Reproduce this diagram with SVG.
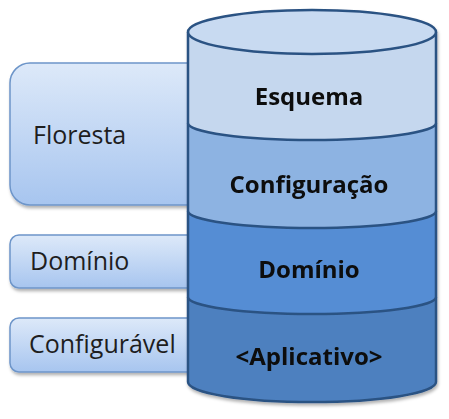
<svg xmlns="http://www.w3.org/2000/svg" width="449" height="419" viewBox="0 0 449 419">
<defs>
<linearGradient id="boxGrad" x1="0" y1="0" x2="0" y2="1">
<stop offset="0" stop-color="#dde9f9"/>
<stop offset="1" stop-color="#a7c5ef"/>
</linearGradient>
<filter id="shadow" x="-10%" y="-10%" width="130%" height="140%">
<feDropShadow dx="1" dy="2.5" stdDeviation="1.5" flood-color="#000" flood-opacity="0.3"/>
</filter>
<style>
.box{fill:url(#boxGrad);stroke:#6d95c9;stroke-width:1.5;filter:url(#shadow)}
.lbl{font-family:"Open Sans","Noto Sans","Liberation Sans",sans-serif;font-size:25px;fill:#1e1e1e}
.layer{stroke:#2c5283;stroke-width:2.5;stroke-linejoin:round}
.ctext{font-family:"Open Sans","Noto Sans","Liberation Sans",sans-serif;font-size:24px;font-weight:bold;fill:#0d0d0d;text-anchor:middle}
</style>
</defs>
<rect width="449" height="419" fill="#ffffff"/>
<g id="floresta">
<rect class="box" x="10" y="63" width="200" height="142" rx="20" ry="20"/>
<text class="lbl" x="33" y="144">Floresta</text>
</g>
<g id="dominio-label">
<rect class="box" x="10" y="235" width="200" height="53" rx="9" ry="9"/>
<text class="lbl" x="30" y="270">Domínio</text>
</g>
<g id="configuravel">
<rect class="box" x="10" y="318" width="200" height="54" rx="9" ry="9"/>
<text class="lbl" x="29" y="353">Configurável</text>
</g>
<g id="cylinder" filter="url(#shadow)">
<g id="aplicativo">
<path class="layer" fill="#4d80bf" d="M188,297 V382 A124,20 0 0 0 436,382 V297"/>
<text class="ctext" x="309" y="365">&lt;Aplicativo&gt;</text>
</g>
<g id="dominio">
<path class="layer" fill="#558dd4" d="M188,211 V297 A124,17 0 0 0 436,297 V211"/>
<text class="ctext" x="309" y="278">Domínio</text>
</g>
<g id="configuracao">
<path class="layer" fill="#8db3e2" d="M188,123 V211 A124,17 0 0 0 436,211 V123"/>
<text class="ctext" x="309" y="193">Configuração</text>
</g>
<g id="esquema">
<path class="layer" fill="#c5d7ee" d="M188,32 V123 A124,17 0 0 0 436,123 V32"/>
<ellipse class="layer" fill="#c8daf1" cx="312" cy="32" rx="124" ry="22"/>
<text class="ctext" x="309" y="105">Esquema</text>
</g>
</g>
<g id="connectors"/>
</svg>
